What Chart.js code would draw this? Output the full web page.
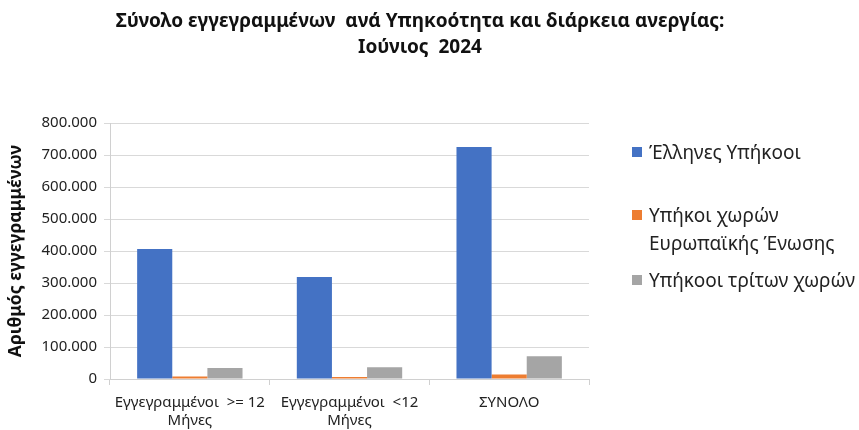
<!DOCTYPE html>
<html>
<head>
<meta charset="utf-8">
<script src="https://cdn.jsdelivr.net/npm/chart.js@4"></script>
<style>
  body { margin: 0; background: #fff; }
  #wrap { position: relative; width: 859px; height: 430px; }
  #title { position: absolute; left: 0; top: 7px; width: 840px; text-align: center; white-space: pre; font-family: "Noto Sans", sans-serif; font-size: 19px; font-weight: bold; line-height: 26px; color: #111; }
  #legend { position: absolute; left: 632px; top: 0; font-family: "Noto Sans", sans-serif; font-size: 19px; color: #222; }
  .item { position: absolute; white-space: nowrap; line-height: 28px; }
  .sw { position: absolute; left: 0; top: 9px; width: 10px; height: 10px; }
  .txt { position: absolute; left: 17px; top: 0; }
</style>
</head>
<body>
<div id="wrap">
  <canvas id="chart" width="859" height="430"></canvas>
  <div id="title"></div>
  <div id="legend"></div>
</div>
<script>
const chartTitle = ["Σύνολο εγγεγραμμένων  ανά Υπηκοότητα και διάρκεια ανεργίας:", "Ιούνιος  2024"];
const categories = [["Εγγεγραμμένοι  >= 12", "Μήνες"], ["Εγγεγραμμένοι  <12", "Μήνες"], "ΣΥΝΟΛΟ"];
const seriesNames = ["Έλληνες Υπήκοοι", ["Υπήκοι χωρών", "Ευρωπαϊκής Ένωσης"], "Υπήκοοι τρίτων χωρών"];
const greeks = [406000, 319000, 725000];
const euCitizens = [8000, 6000, 14000];
const thirdCountry = [34000, 37000, 71000];
const colors = ["#4472C4", "#ED7D31", "#A5A5A5"];
const legendTops = [138, 201, 266];

const fontFam = '"Noto Sans", sans-serif';

// greek style thousands separator
function fmt(v) {
  return String(v).replace(/\B(?=(\d{3})+(?!\d))/g, ".");
}

document.getElementById("title").textContent = chartTitle.join("\n");

const ctx = document.getElementById("chart").getContext("2d");
const chart = new Chart(ctx, {
  type: "bar",
  data: {
    labels: categories,
    datasets: [greeks, euCitizens, thirdCountry].map((d, i) => ({
      label: Array.isArray(seriesNames[i]) ? seriesNames[i].join(" ") : seriesNames[i],
      data: d,
      backgroundColor: colors[i],
      barPercentage: 1,
      categoryPercentage: 0.66
    }))
  },
  options: {
    responsive: false,
    animation: false,
    layout: { padding: { left: 6, right: 270, top: 123, bottom: 0 } },
    plugins: {
      legend: { display: false },
      tooltip: { enabled: false }
    },
    scales: {
      x: {
        afterFit: s => { s.height = 51; },
        grid: { display: true, offset: true, drawOnChartArea: false, tickLength: 6, color: "#d0d0d0" },
        border: { color: "#d0d0d0" },
        ticks: { color: "#222", font: { family: fontFam, size: 15, lineHeight: 1.2 }, maxRotation: 0, padding: 9 }
      },
      y: {
        min: 0,
        max: 800000,
        afterFit: s => { s.width = 104; },
        grid: { color: "#d9d9d9", tickLength: 6 },
        border: { color: "#d0d0d0" },
        ticks: { stepSize: 100000, color: "#222", font: { family: fontFam, size: 15 }, padding: 7, callback: v => fmt(v) },
        title: { display: true, text: "Αριθμός εγγεγραμμένων", color: "#111", font: { family: fontFam, size: 17.5, weight: "bold" }, padding: 0 }
      }
    }
  }
});

// legend as html
const lg = document.getElementById("legend");
seriesNames.forEach((name, i) => {
  const lines = Array.isArray(name) ? name : [name];
  const it = document.createElement("div");
  it.className = "item";
  it.style.top = legendTops[i] + "px";
  it.innerHTML = `<div class="sw" style="background:${colors[i]}"></div><div class="txt">${lines.join("<br>")}</div>`;
  lg.appendChild(it);
});
</script>
</body>
</html>
